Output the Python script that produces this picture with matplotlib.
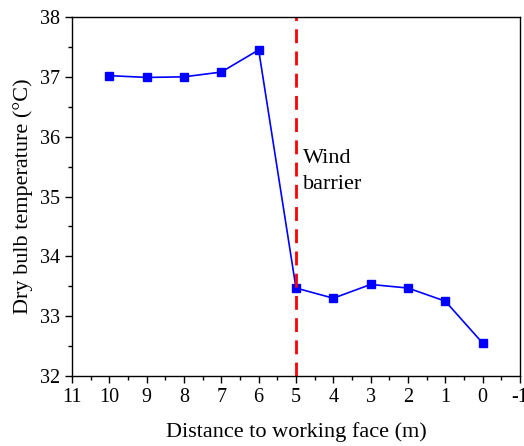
import matplotlib
matplotlib.use('Agg')
import matplotlib.pyplot as plt
from matplotlib.ticker import MultipleLocator

plt.rcParams['font.family'] = ['Liberation Serif', 'DejaVu Serif']
plt.rcParams['axes.unicode_minus'] = False

distance = [10, 9, 8, 7, 6, 5, 4, 3, 2, 1, 0]
temperature = [37.02, 36.99, 37.00, 37.08, 37.45, 33.47, 33.30, 33.53, 33.47, 33.25, 32.55]
barrier_x = 5

fig = plt.figure(figsize=(5.24, 4.46), dpi=100)
ax = fig.add_axes([72/524, 70/446, 448/524, 359/446])

ax.plot(distance, temperature, color='#0000ff', lw=1.2, marker='s', ms=6)
ax.axvline(barrier_x, color='#ff0000', ls=(0, (5, 3)), lw=2)
ax.text(4.82, 35.42, 'Wind\nbarrier', fontsize=16, linespacing=1.55, va='center')

ax.set_xlim(11, -1)
ax.set_ylim(32, 38)
ax.xaxis.set_major_locator(MultipleLocator(1))
ax.xaxis.set_minor_locator(MultipleLocator(0.5))
ax.yaxis.set_major_locator(MultipleLocator(1))
ax.yaxis.set_minor_locator(MultipleLocator(0.5))
ax.tick_params(which='both', direction='out', labelsize=14.5)
ax.tick_params(which='major', length=5, width=1)
ax.tick_params(which='minor', length=3, width=1)
for s in ax.spines.values():
    s.set_linewidth(1)

ax.set_xlabel('Distance to working face (m)', fontsize=16, labelpad=11)
ax.set_ylabel('Dry bulb temperature (\u00b0C)', fontsize=16, labelpad=5)

fig.savefig('out.png', dpi=100)
